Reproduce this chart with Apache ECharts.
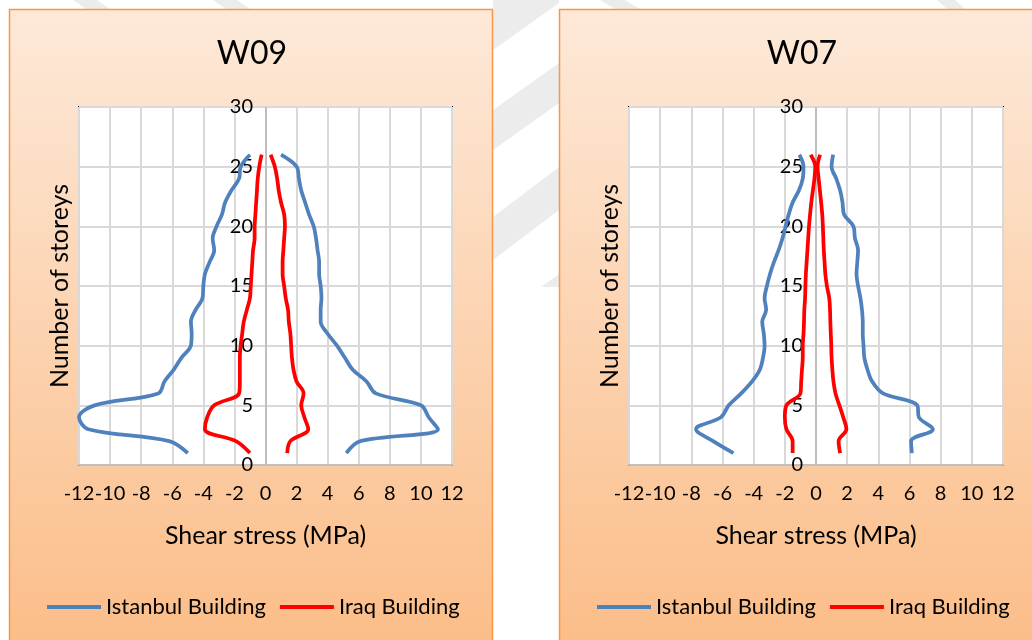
<!DOCTYPE html>
<html>
<head>
<meta charset="utf-8">
<script src="https://cdn.jsdelivr.net/npm/echarts@6/dist/echarts.min.js"></script>
<style>html,body{margin:0;padding:0;background:#fff;}#c{width:1032px;height:640px;}</style>
</head>
<body>
<div id="c"></div>
<script>
// ---- data ----
const storeys = [1,2,3,4,5,6,7,8,9,10,11,12,13,14,15,16,17,18,19,20,21,22,23,24,25,26];
const xTicks = [-12,-10,-8,-6,-4,-2,0,2,4,6,8,10,12];
const panelTitles = ['W09','W07'];
const seriesNames = ['Istanbul Building','Iraq Building'];

const w09IstanbulNeg = [-5.0,-6.2,-11.4,-12.0,-11.0,-6.9,-6.5,-5.9,-5.4,-4.8,-4.75,-4.8,-4.5,-4.05,-4.0,-3.9,-3.6,-3.3,-3.4,-3.15,-2.8,-2.6,-2.2,-1.7,-1.6,-1.0];
const w09IstanbulPos = [5.2,6.1,11.1,10.5,10.0,7.1,6.5,5.6,5.1,4.6,4.0,3.55,3.55,3.6,3.55,3.45,3.45,3.35,3.25,3.1,2.8,2.55,2.3,2.15,2.0,1.0];
const w09IraqNeg = [-1.0,-1.9,-3.9,-3.75,-3.3,-1.7,-1.65,-1.65,-1.65,-1.6,-1.5,-1.4,-1.2,-1.0,-0.95,-0.9,-0.85,-0.8,-0.7,-0.7,-0.65,-0.6,-0.55,-0.5,-0.4,-0.25];
const w09IraqPos = [1.4,1.6,2.75,2.5,2.3,2.45,2.0,1.8,1.7,1.65,1.6,1.5,1.45,1.3,1.2,1.1,1.1,1.15,1.2,1.25,1.2,1.0,0.85,0.75,0.6,0.33];

const w07IstanbulNeg = [-5.3,-6.6,-7.7,-6.1,-5.6,-4.8,-4.1,-3.6,-3.4,-3.3,-3.35,-3.45,-3.2,-3.3,-3.15,-2.95,-2.7,-2.4,-2.15,-1.95,-1.75,-1.5,-1.1,-0.85,-0.8,-1.07];
const w07IstanbulPos = [6.15,6.1,7.5,6.6,6.5,4.3,3.6,3.3,3.1,3.05,3.0,3.0,2.95,2.85,2.7,2.6,2.65,2.7,2.5,2.4,1.8,1.7,1.55,1.3,1.0,1.1];
const w07IraqNeg = [-1.5,-1.5,-1.9,-2.0,-1.9,-1.0,-0.95,-0.9,-0.85,-0.85,-0.8,-0.77,-0.75,-0.7,-0.68,-0.65,-0.6,-0.55,-0.5,-0.45,-0.38,-0.3,-0.2,-0.1,-0.05,-0.34];
const w07IraqPos = [1.55,1.45,1.95,1.75,1.5,1.25,1.12,1.05,1.0,0.98,0.95,0.92,0.9,0.85,0.7,0.6,0.55,0.5,0.47,0.44,0.4,0.33,0.25,0.17,0.1,0.26];

// ---- build ----
const FONT = 'Lato, "Open Sans", sans-serif';
const BLUE = '#4f81bd', RED = '#ff0000';
const pair = vals => storeys.map((s,i) => [vals[i], s]);

const panels = [
  {grid:{left:79, top:107, width:373, height:358}, titleX:247, legendX:42,
   sets:[[w09IstanbulNeg,0],[w09IstanbulPos,0],[w09IraqNeg,1],[w09IraqPos,1]]},
  {grid:{left:629, top:107, width:374, height:358}, titleX:797, legendX:592,
   sets:[[w07IstanbulNeg,0],[w07IstanbulPos,0],[w07IraqNeg,1],[w07IraqPos,1]]}
];

const grids=[], xAxes=[], yAxes=[], series=[], titles=[], legends=[];
panels.forEach((p,k)=>{
  grids.push(Object.assign({show:true, backgroundColor:'#fff', borderColor:'#000', borderWidth:2,
    containLabel:false, outerBoundsMode:'none'}, p.grid));
  xAxes.push({type:'value', gridIndex:k, min:xTicks[0], max:xTicks[xTicks.length-1], interval:2,
    name:'Shear stress (MPa)', nameLocation:'middle', nameGap:58,
    nameTextStyle:{fontFamily:FONT, fontSize:25, color:'#000'},
    axisLine:{onZero:false, lineStyle:{color:'#bfbfbf', width:2}},
    axisTick:{show:false},
    axisLabel:{fontFamily:FONT, fontSize:20, color:'#000', margin:19},
    splitLine:{lineStyle:{color:'#d9d9d9', width:2}}});
  yAxes.push({type:'value', gridIndex:k, min:0, max:30, interval:5,
    name:'Number of storeys', nameLocation:'middle', nameGap:7, nameRotate:90,
    nameTextStyle:{fontFamily:FONT, fontSize:25, color:'#000'},
    axisLine:{show:false, onZero:false},
    axisTick:{show:false},
    // labels sit beside the x = 0 line, as in the original
    axisLabel:{fontFamily:FONT, fontSize:20, color:'#000', margin:-174},
    splitLine:{lineStyle:{color:'#d9d9d9', width:2}}});
  p.sets.forEach(([vals,ni],j)=>{
    const s = {type:'line', name:seriesNames[ni], xAxisIndex:k, yAxisIndex:k,
      data:pair(vals), showSymbol:false, symbol:'none', smooth:0.35,
      lineStyle:{width:3.75, color: ni===0?BLUE:RED}, itemStyle:{color: ni===0?BLUE:RED}, z:3};
    if (j===0) {
      s.markLine = {silent:true, symbol:'none', label:{show:false}, animation:false,
        lineStyle:{color:'#bfbfbf', width:2, type:'solid'}, data:[{xAxis:0}], z:1};
    }
    series.push(s);
  });
  titles.push({text:panelTitles[k], left:p.titleX, top:33, textAlign:'center',
    textStyle:{fontFamily:FONT, fontSize:32, fontWeight:'normal', color:'#000'}});
  legends.push({data:seriesNames, left:p.legendX, top:591, icon:'rect', itemWidth:54, itemHeight:4,
    itemGap:14, textStyle:{fontFamily:FONT, fontSize:22, color:'#000'}, selectedMode:false});
});

const panelFill = {type:'linear', x:0, y:0, x2:0, y2:1, colorStops:[{offset:0,color:'#fde9d9'},{offset:1,color:'#fbbd88'}]};
const gray = '#ececec';
const graphics = [
  {type:'polygon', z:-20, shape:{points:[[493,0],[559,0],[559,3],[493,50]]}, style:{fill:gray}},
  {type:'polygon', z:-20, shape:{points:[[493,110],[559,63],[559,103],[493,150]]}, style:{fill:gray}},
  {type:'polygon', z:-20, shape:{points:[[493,217],[559,167],[559,210],[493,260]]}, style:{fill:gray}},
  {type:'polygon', z:-20, shape:{points:[[541,287],[559,274],[559,287]]}, style:{fill:gray}},
  {type:'polygon', z:-20, shape:{points:[[73,0],[97,0],[110,9],[86,9]]}, style:{fill:gray}},
  {type:'polygon', z:-20, shape:{points:[[213,0],[237,0],[250,9],[226,9]]}, style:{fill:gray}},
  {type:'polygon', z:-20, shape:{points:[[600,0],[625,0],[640,9],[615,9]]}, style:{fill:gray}},
  {type:'polygon', z:-20, shape:{points:[[937,0],[955,0],[965,9],[947,9]]}, style:{fill:gray}},
  {type:'rect', z:-10, shape:{x:9.5, y:9.5, width:483, height:640}, style:{fill:panelFill, stroke:'#f79646', lineWidth:1.5}},
  {type:'rect', z:-10, shape:{x:559.5, y:9.5, width:480, height:640}, style:{fill:panelFill, stroke:'#f79646', lineWidth:1.5}}
];

const chart = echarts.init(document.getElementById('c'), null, {renderer:'canvas'});
chart.setOption({
  animation:false,
  backgroundColor:'#fff',
  title:titles, legend:legends, grid:grids, xAxis:xAxes, yAxis:yAxes, series:series,
  graphic:{elements:graphics}
});
</script>
</body>
</html>
